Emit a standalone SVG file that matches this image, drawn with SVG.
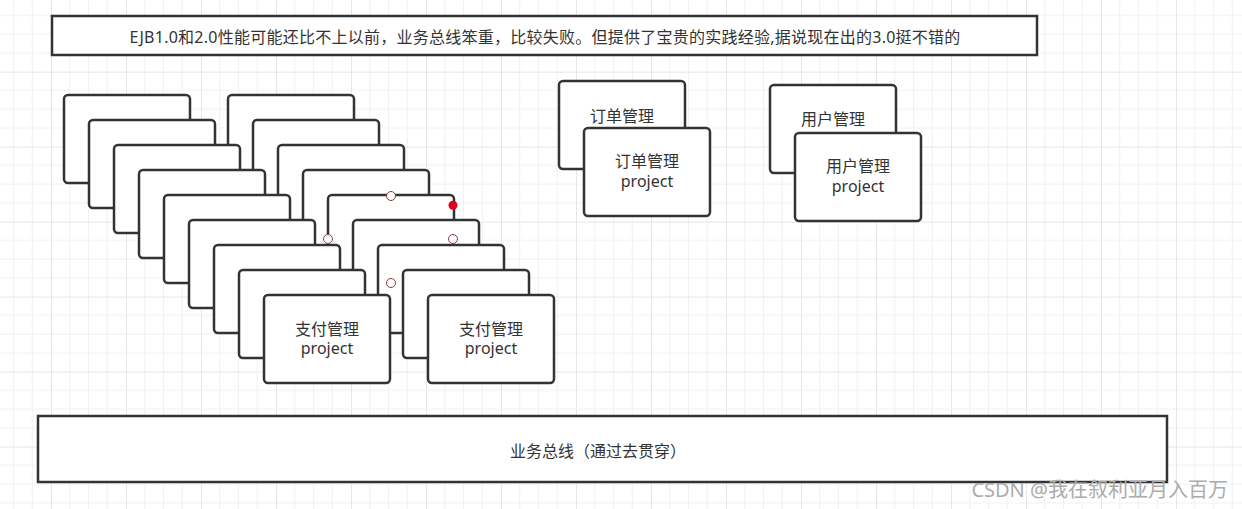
<svg xmlns="http://www.w3.org/2000/svg" width="1242" height="509" viewBox="0 0 1242 509">
<style>
.box{fill:#fff;stroke:#333;stroke-width:2.5}
.bar{fill:#fff;stroke:#333;stroke-width:2.5}
.t{font-family:"Noto Sans","Noto Sans CJK SC",sans-serif;font-size:16px;fill:#333;text-anchor:middle}
.p{font-family:"Noto Sans","Noto Sans CJK SC",sans-serif;font-size:16px;fill:#333;text-anchor:middle}
.top{letter-spacing:0.25px}
.h{fill:#fff;stroke:#8a3c3c;stroke-width:1}
.wm{font-family:"Noto Sans","Noto Sans CJK SC",sans-serif;font-size:20px;fill:#ababab;text-anchor:end}
</style>
<defs>
<pattern id="grid" x="-24" y="-3.35" width="75" height="75" patternUnits="userSpaceOnUse">
<path d="M18.75 0V75M37.5 0V75M56.25 0V75M0 18.75H75M0 37.5H75M0 56.25H75" stroke="#f1f1f1" stroke-width="1" fill="none"/>
<path d="M0.5 0V75M0 0.5H75" stroke="#e6e6e6" stroke-width="1" fill="none"/>
</pattern>
</defs>
<rect width="1242" height="509" fill="#fff"/>
<rect width="1242" height="509" fill="url(#grid)"/>

<g id="top-note">
<rect class="bar" x="52" y="16" width="985" height="39"/>
<text class="t top" x="545" y="42.5">EJB1.0和2.0性能可能还比不上以前，业务总线笨重，比较失败。但提供了宝贵的实践经验,据说现在出的3.0挺不错的</text>
</g>

<g id="stack-right">
<rect class="box" x="228" y="95" width="126" height="88" rx="4"/>
<rect class="box" x="253" y="120" width="126" height="88" rx="4"/>
<rect class="box" x="278" y="145" width="126" height="88" rx="4"/>
<rect class="box" x="303" y="170" width="126" height="88" rx="4"/>
<rect class="box" x="328" y="195" width="126" height="88" rx="4"/>
<rect class="box" x="353" y="220" width="126" height="88" rx="4"/>
<rect class="box" x="378" y="245" width="126" height="88" rx="4"/>
<rect class="box" x="403" y="270" width="126" height="88" rx="4"/>
<rect class="box" x="428" y="295" width="126" height="88" rx="4"/>
<text class="t" x="491" y="334.5">支付管理</text>
<text class="p" x="491" y="354">project</text>
</g>

<g id="stack-left">
<rect class="box" x="64" y="95" width="126" height="88" rx="4"/>
<rect class="box" x="89" y="120" width="126" height="88" rx="4"/>
<rect class="box" x="114" y="145" width="126" height="88" rx="4"/>
<rect class="box" x="139" y="170" width="126" height="88" rx="4"/>
<rect class="box" x="164" y="195" width="126" height="88" rx="4"/>
<rect class="box" x="189" y="220" width="126" height="88" rx="4"/>
<rect class="box" x="214" y="245" width="126" height="88" rx="4"/>
<rect class="box" x="239" y="270" width="126" height="88" rx="4"/>
<rect class="box" x="264" y="295" width="126" height="88" rx="4"/>
<text class="t" x="327" y="334.5">支付管理</text>
<text class="p" x="327" y="354">project</text>
</g>

<g id="handles">
<circle class="h" cx="391" cy="196" r="4.5"/>
<circle class="h" cx="328" cy="239" r="4.5"/>
<circle class="h" cx="453" cy="239" r="4.5"/>
<circle class="h" cx="391" cy="283" r="4.5"/>
<circle cx="453" cy="205.3" r="4.5" fill="#e0001b"/>
</g>

<g id="order">
<rect class="box" x="559" y="81" width="126" height="88" rx="4"/>
<text class="t" x="622" y="122">订单管理</text>
<rect class="box" x="584" y="128" width="126" height="88" rx="4"/>
<text class="t" x="647" y="167.2">订单管理</text>
<text class="p" x="647" y="186.7">project</text>
</g>

<g id="user">
<rect class="box" x="770" y="85" width="126" height="88" rx="4"/>
<text class="t" x="833" y="125.4">用户管理</text>
<rect class="box" x="795" y="133" width="126" height="88" rx="4"/>
<text class="t" x="858" y="172.2">用户管理</text>
<text class="p" x="858" y="191.7">project</text>
</g>

<g id="bus">
<rect class="bar" x="38" y="416" width="1129" height="66"/>
<text class="t" x="598" y="457">业务总线（通过去贯穿）</text>
</g>

<g id="connectors"/>

<text class="wm" x="1228" y="497">CSDN @我在叙利亚月入百万</text>
</svg>
